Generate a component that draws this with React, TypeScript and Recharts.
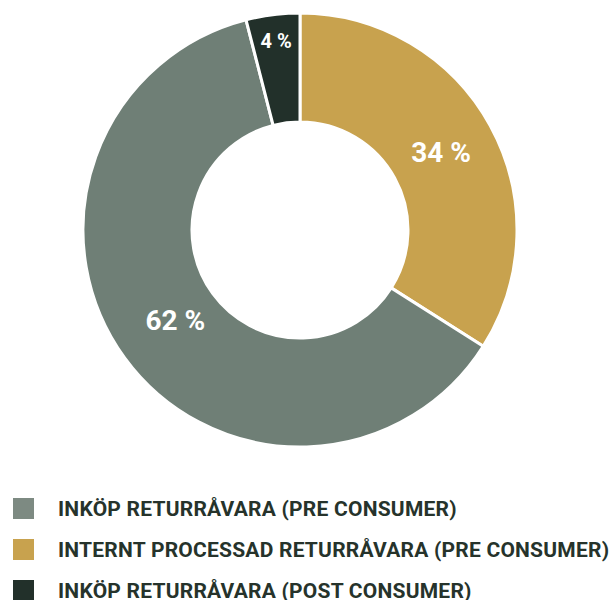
import React from "react";
import { PieChart, Pie, Cell, Legend } from "recharts";

const categories = [
  "INTERNT PROCESSAD RETURRÅVARA (PRE CONSUMER)",
  "INKÖP RETURRÅVARA (PRE CONSUMER)",
  "INKÖP RETURRÅVARA (POST CONSUMER)",
];
const values = [34, 62, 4];
const sliceColors = ["#c8a24e", "#6f7f76", "#22302a"];
const legendOrder = [1, 0, 2];
const legendColors = ["#7d8a82", "#c8a24e", "#22302a"];

const data = categories.map((name, i) => ({ name, value: values[i] }));

const RAD = Math.PI / 180;
const labelRadius = [161, 154, 190];
const labelSize = [28, 28, 20];

const renderLabel = (props: any) => {
  const { cx, cy, midAngle, index, value } = props;
  const r = labelRadius[index];
  const x = cx + r * Math.cos(-midAngle * RAD);
  const y = cy + r * Math.sin(-midAngle * RAD);
  return (
    <text
      x={x}
      y={y}
      fill="#ffffff"
      textAnchor="middle"
      dominantBaseline="central"
      fontFamily="Roboto, sans-serif"
      fontWeight={700}
      fontSize={labelSize[index]}
    >
      {`${value} %`}
    </text>
  );
};

const renderLegend = () => (
  <div style={{ fontFamily: "Roboto, sans-serif" }}>
    {legendOrder.map((idx, j) => (
      <div
        key={idx}
        style={{
          display: "flex",
          alignItems: "center",
          height: 41,
        }}
      >
        <div
          style={{
            width: 21,
            height: 21,
            background: legendColors[j],
            marginLeft: 13,
            marginRight: 24,
            flexShrink: 0,
          }}
        />
        <span
          style={{
            fontSize: 21,
            fontWeight: 700,
            letterSpacing: 0.22,
            color: "#26332b",
            whiteSpace: "nowrap",
          }}
        >
          {categories[idx]}
        </span>
      </div>
    ))}
  </div>
);

export default function App() {
  return (
    <div style={{ position: "absolute", left: 0, top: 0, width: 610, height: 600 }}>
      <PieChart width={610} height={600} margin={{ top: 0, right: 0, bottom: 0, left: 0 }}>
        <Pie
          data={data}
          dataKey="value"
          cx={300}
          cy={230}
          innerRadius={108}
          outerRadius={217}
          startAngle={90}
          endAngle={-270}
          stroke="#ffffff"
          strokeWidth={3}
          label={renderLabel}
          labelLine={false}
          isAnimationActive={false}
        >
          {data.map((d, i) => (
            <Cell key={d.name} fill={sliceColors[i]} />
          ))}
        </Pie>
        <Legend
          content={renderLegend}
          wrapperStyle={{ position: "absolute", left: 0, top: 488, width: 610 }}
        />
      </PieChart>
    </div>
  );
}
